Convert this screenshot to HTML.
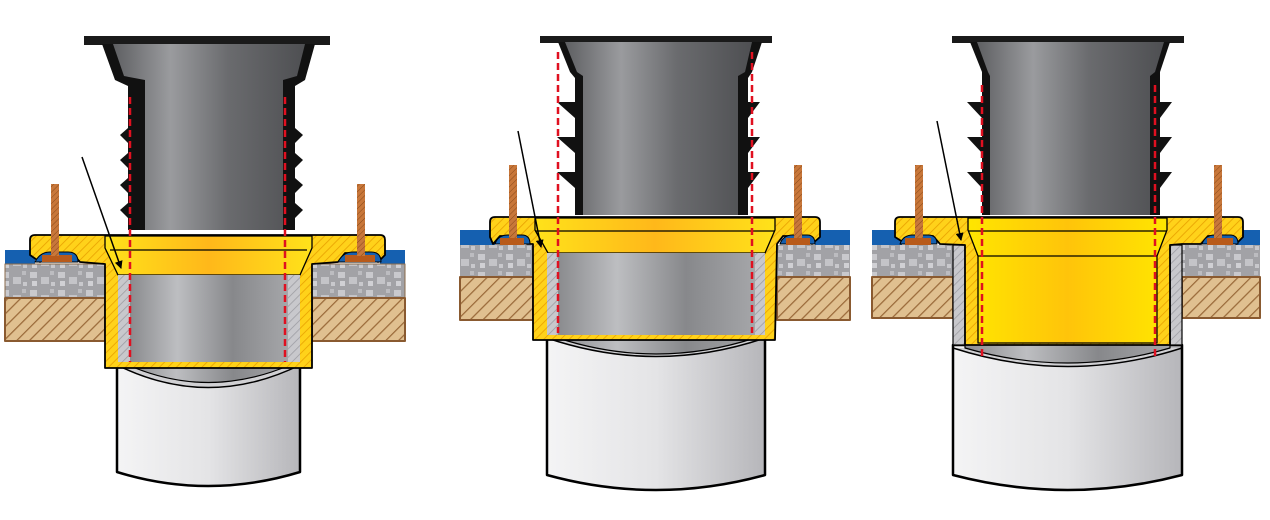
<!DOCTYPE html>
<html><head><meta charset="utf-8"><style>html,body{margin:0;padding:0;background:#fff}svg{display:block}</style></head>
<body>
<svg width="1270" height="520" viewBox="0 0 1270 520" xmlns="http://www.w3.org/2000/svg">
<defs>
<pattern id="yh" width="6" height="6" patternUnits="userSpaceOnUse" patternTransform="rotate(45)"><rect width="6" height="6" fill="#ffd21a"/><line x1="0" y1="0" x2="0" y2="6" stroke="#e8a000" stroke-width="1.6"/></pattern>
<pattern id="wh" width="9" height="9" patternUnits="userSpaceOnUse" patternTransform="rotate(45)"><rect width="9" height="9" fill="#e0c090"/><line x1="0" y1="0" x2="0" y2="9" stroke="#9a6a3a" stroke-width="2.5"/></pattern>
<pattern id="gh" width="6" height="6" patternUnits="userSpaceOnUse" patternTransform="rotate(45)"><rect width="6" height="6" fill="#c8c8cc"/><line x1="0" y1="0" x2="0" y2="6" stroke="#9a9aa0" stroke-width="1.5"/></pattern>
<pattern id="bh" width="4" height="4" patternUnits="userSpaceOnUse" patternTransform="rotate(45)"><rect width="4" height="4" fill="#c8773a"/><line x1="0" y1="0" x2="0" y2="4" stroke="#8a4a1a" stroke-width="1"/></pattern>
<pattern id="cc" width="28" height="18" patternUnits="userSpaceOnUse"><rect width="28" height="18" fill="#a2a2a6"/><rect x="2" y="2" width="7" height="6" fill="#c9c9cd"/><rect x="13" y="7" width="8" height="7" fill="#c4c4c8"/><rect x="4" y="11" width="5" height="5" fill="#d0d0d4"/><rect x="22" y="1" width="4" height="4" fill="#bcbcc0"/><rect x="23" y="12" width="4" height="4" fill="#c8c8cc"/></pattern>
<linearGradient id="pg" x1="0" x2="1"><stop offset="0" stop-color="#5e5f62"/><stop offset="0.3" stop-color="#9a9b9e"/><stop offset="0.6" stop-color="#6a6b6e"/><stop offset="1" stop-color="#4e4f52"/></linearGradient>
<linearGradient id="ig" x1="0" x2="1"><stop offset="0" stop-color="#8a8b8e"/><stop offset="0.3" stop-color="#bdbec1"/><stop offset="0.65" stop-color="#87888b"/><stop offset="1" stop-color="#a5a6a9"/></linearGradient>
<linearGradient id="wg" x1="0" x2="1"><stop offset="0" stop-color="#f4f4f5"/><stop offset="0.5" stop-color="#e4e4e6"/><stop offset="1" stop-color="#b6b6ba"/></linearGradient>
<linearGradient id="yg" x1="0" x2="1"><stop offset="0" stop-color="#ffe21a"/><stop offset="0.5" stop-color="#ffb81a"/><stop offset="1" stop-color="#ffe21a"/></linearGradient>
<linearGradient id="yg2" x1="0" x2="1"><stop offset="0" stop-color="#ffe600"/><stop offset="0.5" stop-color="#ffc40a"/><stop offset="1" stop-color="#ffe600"/></linearGradient>
<marker id="ah" markerWidth="8" markerHeight="8" refX="7" refY="4" orient="auto" markerUnits="userSpaceOnUse"><path d="M0,0 L8,4 L0,8 Z" fill="#000"/></marker>
</defs>

<!-- ============ PANEL 1 ============ -->
<g stroke-linejoin="round">
<path d="M117,362 L117,472 Q208,500 300,472 L300,362 Z" fill="url(#wg)" stroke="#000" stroke-width="2.5"/>
<path d="M117,365 Q208,410 300,365" fill="#d0d0d3" stroke="#000" stroke-width="1.5"/>
<path d="M128,365 Q208,400 290,365 L290,360 L128,360 Z" fill="url(#ig)" stroke="#000" stroke-width="1.2"/>
<rect x="5" y="250" width="30" height="16" fill="#1560b0"/><rect x="380" y="250" width="25" height="16" fill="#1560b0"/>
<rect x="5" y="264" width="100" height="34" fill="url(#cc)" stroke="#8a6a4a" stroke-width="1"/>
<rect x="312" y="264" width="93" height="34" fill="url(#cc)" stroke="#8a6a4a" stroke-width="1"/>
<rect x="5" y="298" width="100" height="43" fill="url(#wh)" stroke="#8a5a30" stroke-width="2"/>
<rect x="312" y="298" width="93" height="43" fill="url(#wh)" stroke="#8a5a30" stroke-width="2"/>
<path d="M30,240 Q30,235 35,235 L380,235 Q385,235 385,240 L385,255 L378,262 L368,253 L345,253 L338,262 L312,264 L312,368 L105,368 L105,264 L80,262 L72,253 L48,253 L40,262 L30,255 Z" fill="url(#yh)" stroke="#000" stroke-width="1.8"/>
<path d="M35,262 Q40,252 50,252 L68,252 Q78,252 78,262 Z" fill="#1560b0" stroke="#000" stroke-width="1"/>
<path d="M338,262 Q343,252 353,252 L371,252 Q381,252 381,262 Z" fill="#1560b0" stroke="#000" stroke-width="1"/>
<rect x="42" y="255" width="30" height="7" fill="#b85a1a"/><rect x="345" y="255" width="30" height="7" fill="#b85a1a"/>
<rect x="51" y="184" width="8" height="72" fill="url(#bh)"/><rect x="357" y="184" width="8" height="72" fill="url(#bh)"/>
<path d="M105,236 L312,236 L312,248 L300,275 L118,275 L105,248 Z" fill="url(#yg)" stroke="#000" stroke-width="1.3"/>
<line x1="110" y1="250" x2="307" y2="250" stroke="#000" stroke-width="1.2"/>
<rect x="118" y="275" width="12" height="87" fill="url(#gh)"/><rect x="288" y="275" width="12" height="87" fill="url(#gh)"/>
<rect x="130" y="275" width="158" height="87" fill="url(#ig)"/>
<rect x="84" y="36" width="246" height="9" fill="#1a1a1a"/>
<path d="M102,44 L115,80 L128,86 L128,230 L295,230 L295,86 L305,80 L315,44 Z" fill="#111"/>
<path d="M113,44 L124,76 L145,80 L145,230 L283,230 L283,80 L297,76 L305,44 Z" fill="url(#pg)"/>
<g fill="#111"><path d="M128,128 L120,135 L128,143Z M128,153 L120,160 L128,168Z M128,178 L120,185 L128,193Z M128,203 L120,210 L128,218Z M295,128 L303,135 L295,143Z M295,153 L303,160 L295,168Z M295,178 L303,185 L295,193Z M295,203 L303,210 L295,218Z"/></g>
<g stroke="#e01020" stroke-width="2.5" stroke-dasharray="7,4"><line x1="130" y1="97" x2="130" y2="362"/><line x1="285" y1="97" x2="285" y2="362"/></g>
<line x1="82" y1="157" x2="121" y2="268" stroke="#000" stroke-width="1.5" marker-end="url(#ah)"/>
</g>

<!-- ============ PANEL 2 ============ -->
<g stroke-linejoin="round">
<path d="M547,335 L547,475 Q656,505 765,475 L765,335 Z" fill="url(#wg)" stroke="#000" stroke-width="2.5"/>
<path d="M547,338 Q656,375 765,338" fill="#d0d0d3" stroke="#000" stroke-width="1.5"/>
<path d="M558,338 Q656,370 755,338 L755,333 L558,333 Z" fill="url(#ig)" stroke="#000" stroke-width="1.2"/>
<rect x="460" y="230" width="35" height="16" fill="#1560b0"/><rect x="815" y="230" width="35" height="16" fill="#1560b0"/>
<rect x="460" y="245" width="73" height="32" fill="url(#cc)"/>
<rect x="777" y="245" width="73" height="32" fill="url(#cc)"/>
<rect x="460" y="277" width="73" height="43" fill="url(#wh)" stroke="#8a5a30" stroke-width="2"/>
<rect x="777" y="277" width="73" height="43" fill="url(#wh)" stroke="#8a5a30" stroke-width="2"/>
<path d="M490,222 Q490,217 495,217 L815,217 Q820,217 820,222 L820,237 L812,244 L803,236 L783,236 L777,244 L775,340 L533,340 L533,244 L527,244 L520,236 L500,236 L493,244 L490,237 Z" fill="url(#yh)" stroke="#000" stroke-width="1.8"/>
<path d="M495,244 Q498,235 508,235 L522,235 Q530,235 530,244 Z" fill="#1560b0" stroke="#000" stroke-width="1"/>
<path d="M780,244 Q783,235 793,235 L807,235 Q815,235 815,244 Z" fill="#1560b0" stroke="#000" stroke-width="1"/>
<rect x="500" y="238" width="24" height="7" fill="#b85a1a"/><rect x="786" y="238" width="24" height="7" fill="#b85a1a"/>
<rect x="509" y="165" width="8" height="73" fill="url(#bh)"/><rect x="794" y="165" width="8" height="73" fill="url(#bh)"/>
<path d="M535,218 L775,218 L775,230 L765,253 L548,253 L535,230 Z" fill="url(#yg)" stroke="#000" stroke-width="1.3"/>
<line x1="535" y1="231" x2="775" y2="231" stroke="#000" stroke-width="1.2"/>
<rect x="547" y="253" width="11" height="82" fill="url(#gh)"/><rect x="755" y="253" width="10" height="82" fill="url(#gh)"/>
<rect x="558" y="253" width="197" height="82" fill="url(#ig)"/>
<rect x="540" y="36" width="232" height="7" fill="#1a1a1a"/>
<path d="M558,42 L570,72 L575,78 L575,215 L748,215 L748,78 L752,72 L762,42 Z" fill="#111"/>
<path d="M565,42 L577,72 L583,76 L583,215 L738,215 L738,76 L745,72 L752,42 Z" fill="url(#pg)"/>
<g fill="#111"><path d="M575,102 L557,102 L575,118Z M575,137 L557,137 L575,153Z M575,172 L557,172 L575,188Z M748,102 L760,102 L748,118Z M748,137 L760,137 L748,153Z M748,172 L760,172 L748,188Z"/></g>
<g stroke="#e01020" stroke-width="2.5" stroke-dasharray="7,4"><line x1="558" y1="52" x2="558" y2="333"/><line x1="752" y1="52" x2="752" y2="333"/></g>
<line x1="518" y1="131" x2="541" y2="247" stroke="#000" stroke-width="1.5" marker-end="url(#ah)"/>
</g>

<!-- ============ PANEL 3 ============ -->
<g stroke-linejoin="round">
<path d="M953,345 L953,475 Q1068,505 1182,475 L1182,345 Z" fill="url(#wg)" stroke="#000" stroke-width="2.5"/>
<path d="M953,348 Q1068,385 1182,348" fill="#d0d0d3" stroke="#000" stroke-width="1.5"/>
<path d="M965,348 Q1068,378 1170,348 L1170,343 L965,343 Z" fill="url(#ig)" stroke="#000" stroke-width="1.2"/>
<rect x="872" y="230" width="30" height="16" fill="#1560b0"/><rect x="1236" y="230" width="24" height="16" fill="#1560b0"/>
<rect x="872" y="245" width="81" height="32" fill="url(#cc)"/>
<rect x="1182" y="245" width="78" height="32" fill="url(#cc)"/>
<rect x="872" y="277" width="81" height="41" fill="url(#wh)" stroke="#8a5a30" stroke-width="2"/>
<rect x="1182" y="277" width="78" height="41" fill="url(#wh)" stroke="#8a5a30" stroke-width="2"/>
<rect x="953" y="245" width="12" height="100" fill="url(#gh)" stroke="#000" stroke-width="1.2"/>
<rect x="1170" y="245" width="12" height="100" fill="url(#gh)" stroke="#000" stroke-width="1.2"/>
<path d="M895,222 Q895,217 900,217 L1238,217 Q1243,217 1243,222 L1243,237 L1236,244 L1228,236 L1208,236 L1201,244 L1182,244 L1170,245 L1170,345 L965,345 L965,245 L940,244 L933,236 L913,236 L906,244 L895,237 Z" fill="url(#yh)" stroke="#000" stroke-width="1.8"/>
<path d="M900,244 Q903,235 913,235 L928,235 Q937,235 937,244 Z" fill="#1560b0" stroke="#000" stroke-width="1"/>
<path d="M1202,244 Q1205,235 1215,235 L1230,235 Q1238,235 1238,244 Z" fill="#1560b0" stroke="#000" stroke-width="1"/>
<rect x="905" y="238" width="26" height="7" fill="#b85a1a"/><rect x="1207" y="238" width="26" height="7" fill="#b85a1a"/>
<rect x="915" y="165" width="8" height="73" fill="url(#bh)"/><rect x="1214" y="165" width="8" height="73" fill="url(#bh)"/>
<path d="M968,218 L1167,218 L1167,230 L1157,256 L1157,343 L978,343 L978,256 L968,230 Z" fill="url(#yg2)" stroke="#000" stroke-width="1.3"/>
<line x1="968" y1="231" x2="1167" y2="231" stroke="#000" stroke-width="1.2"/>
<line x1="978" y1="256" x2="1157" y2="256" stroke="#000" stroke-width="1.2"/>
<rect x="952" y="36" width="232" height="7" fill="#1a1a1a"/>
<path d="M970,42 L982,72 L982,215 L1160,215 L1160,72 L1170,42 Z" fill="#111"/>
<path d="M977,42 L988,72 L990,76 L990,215 L1150,215 L1150,76 L1155,72 L1164,42 Z" fill="url(#pg)"/>
<g fill="#111"><path d="M982,102 L967,102 L982,118Z M982,137 L967,137 L982,153Z M982,172 L967,172 L982,188Z M1160,102 L1172,102 L1160,118Z M1160,137 L1172,137 L1160,153Z M1160,172 L1172,172 L1160,188Z"/></g>
<g stroke="#e01020" stroke-width="2.5" stroke-dasharray="7,4"><line x1="982" y1="85" x2="982" y2="358"/><line x1="1155" y1="85" x2="1155" y2="358"/></g>
<line x1="937" y1="121" x2="961" y2="240" stroke="#000" stroke-width="1.5" marker-end="url(#ah)"/>
</g>
</svg>
</body></html>
